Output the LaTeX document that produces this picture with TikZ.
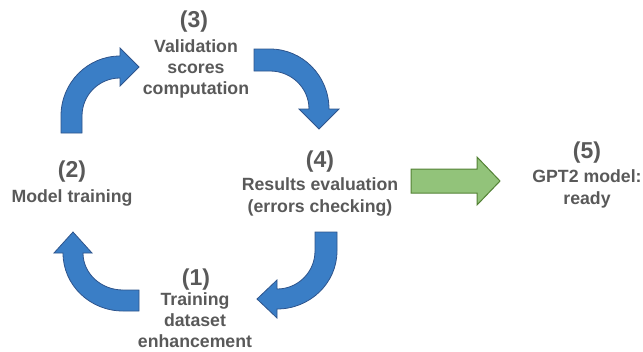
\documentclass[tikz,border=0pt]{standalone}
\usepackage{fontspec}
\setmainfont{Liberation Sans}
\definecolor{txtgray}{RGB}{89,89,89}
\definecolor{bluefill}{RGB}{58,126,198}
\definecolor{blueline}{RGB}{46,84,140}
\definecolor{greenfill}{RGB}{146,195,122}
\definecolor{greenline}{RGB}{84,130,53}
\tikzset{
  numlbl/.style={text=txtgray,font=\bfseries\fontsize{23}{25}\selectfont,inner sep=0pt},
  txtlbl/.style={text=txtgray,font=\bfseries\fontsize{17.7}{21.3}\selectfont,align=center,inner sep=0pt},
  bluearrow/.style={fill=bluefill,draw=blueline,line width=0.8pt,line join=miter},
  greenarrow/.style={fill=greenfill,draw=greenline,line width=1pt,line join=miter}
}
\begin{document}
\begin{tikzpicture}[x=1pt,y=-1pt]
\useasboundingbox (0,0) rectangle (643,351);
% text labels
\node[numlbl] (n3) at (194,22) {(3)};
\node[txtlbl] (t3) at (196,69) {Validation\\scores\\computation};
\node[numlbl] (n2) at (72,172) {(2)};
\node[txtlbl] (t2) at (72,198) {Model training};
\node[numlbl] (n4) at (320,162) {(4)};
\node[txtlbl] (t4) at (320,197) {Results evaluation\\(errors checking)};
\node[numlbl] (n5) at (587,153) {(5)};
\node[txtlbl] (t5) at (587,189) {GPT2 model:\\ready};
\node[numlbl] (n1) at (196,280) {(1)};
\node[txtlbl] (t1) at (195,320) {Training\\dataset\\enhancement};
% arrow (2) -> (3)
\path[bluearrow] (61,133) -- (61,116)
  .. controls (61,82.9) and (87.4,56) .. (120,56)
  -- (120,48) -- (139,67) -- (120,86) -- (120,78)
  .. controls (99,78) and (82,95) .. (82,116)
  -- (82,133) -- cycle;
% arrow (3) -> (4)
\path[bluearrow] (254,49) -- (270,49)
  .. controls (302.6,49) and (329,75.9) .. (329,109)
  -- (339,109) -- (319,129) -- (299,109) -- (309,109)
  .. controls (309,88) and (291.5,71) .. (270,71)
  -- (254,71) -- cycle;
% arrow (4) -> (1)
\path[bluearrow] (315,232) -- (337,232) -- (337,251)
  .. controls (337,283) and (310.1,309) .. (277,309)
  -- (277,318) -- (257,299) -- (277,280) -- (277,289)
  .. controls (298,289) and (315,272) .. (315,251)
  -- cycle;
% arrow (1) -> (2)
\path[bluearrow] (139,311) -- (123,311)
  .. controls (89.9,311) and (63,285) .. (63,253)
  -- (54,253) -- (73,232) -- (92,253) -- (83,253)
  .. controls (83,273.4) and (100.9,290) .. (123,290)
  -- (139,290) -- cycle;
% arrow (4) -> (5)
\path[greenarrow] (411,169) -- (477,169) -- (477,157) -- (500,181)
  -- (477,205) -- (477,193) -- (411,193) -- cycle;
\end{tikzpicture}
\end{document}
